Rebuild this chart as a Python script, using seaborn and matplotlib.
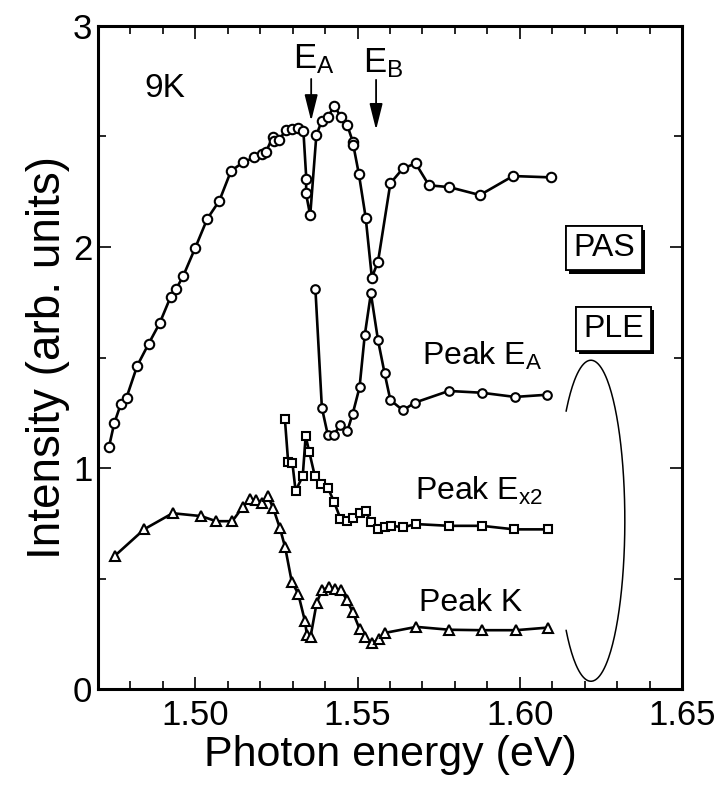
import numpy as np
import pandas as pd
import matplotlib
matplotlib.use("Agg")
import matplotlib.pyplot as plt
import matplotlib.patheffects as pe
from matplotlib.ticker import MultipleLocator
import seaborn as sns

# ---- data ----
pas_x = [1.4734, 1.4750, 1.4770, 1.4788, 1.4821, 1.4856, 1.4890, 1.4924, 1.4941, 1.4963,
         1.5000, 1.5037, 1.5074, 1.5110, 1.5147, 1.5182, 1.5204, 1.5218, 1.5238, 1.5241,
         1.5259, 1.5278, 1.5298, 1.5316, 1.5333, 1.5342, 1.5341, 1.5354, 1.5373, 1.5390,
         1.5409, 1.5428, 1.5448, 1.5468, 1.5486, 1.5487, 1.5504, 1.5525, 1.5544, 1.5563,
         1.5601, 1.5640, 1.5679, 1.5720, 1.5782, 1.5877, 1.5979, 1.6095]
pas_y = [1.096, 1.202, 1.288, 1.319, 1.463, 1.562, 1.655, 1.775, 1.81, 1.87,
         1.997, 2.128, 2.209, 2.344, 2.383, 2.405, 2.42, 2.431, 2.496, 2.481,
         2.486, 2.527, 2.532, 2.54, 2.526, 2.308, 2.243, 2.143, 2.506, 2.572,
         2.588, 2.639, 2.59, 2.552, 2.473, 2.46, 2.33, 2.133, 1.862, 1.934,
         2.288, 2.356, 2.378, 2.279, 2.271, 2.235, 2.321, 2.315]

ea_x = [1.5370, 1.5390, 1.5408, 1.5427, 1.5447, 1.5468, 1.5485, 1.5506, 1.5522, 1.5541,
        1.5563, 1.5583, 1.5601, 1.5640, 1.5676, 1.5781, 1.5882, 1.5985, 1.6085]
ea_y = [1.811, 1.273, 1.152, 1.152, 1.195, 1.166, 1.246, 1.365, 1.600, 1.790,
        1.578, 1.431, 1.308, 1.261, 1.296, 1.349, 1.341, 1.322, 1.332]

ex2_x = [1.5276, 1.5286, 1.5299, 1.5309, 1.5331, 1.5340, 1.5351, 1.5368, 1.5387, 1.5409,
         1.5428, 1.5447, 1.5466, 1.5485, 1.5506, 1.5525, 1.5540, 1.5564, 1.5583, 1.5602,
         1.5641, 1.5680, 1.5782, 1.5883, 1.5983, 1.6086]
ex2_y = [1.222, 1.029, 1.025, 0.897, 0.964, 1.145, 1.074, 0.966, 0.926, 0.909,
         0.846, 0.772, 0.763, 0.775, 0.798, 0.806, 0.756, 0.723, 0.735, 0.739,
         0.733, 0.747, 0.739, 0.739, 0.723, 0.723]

k_x = [1.4751, 1.4843, 1.4930, 1.5018, 1.5064, 1.5114, 1.5146, 1.5169, 1.5188, 1.5206,
       1.5223, 1.5240, 1.5261, 1.5277, 1.5297, 1.5317, 1.5338, 1.5344, 1.5355, 1.5374,
       1.5390, 1.5413, 1.5430, 1.5449, 1.5467, 1.5485, 1.5506, 1.5523, 1.5543, 1.5567,
       1.5585, 1.5681, 1.5783, 1.5882, 1.5988, 1.6088]
k_y = [0.602, 0.724, 0.796, 0.783, 0.760, 0.760, 0.824, 0.860, 0.858, 0.843,
       0.876, 0.819, 0.727, 0.641, 0.487, 0.432, 0.307, 0.244, 0.237, 0.391,
       0.448, 0.462, 0.454, 0.450, 0.403, 0.350, 0.273, 0.237, 0.207, 0.228,
       0.255, 0.282, 0.269, 0.267, 0.267, 0.279]

x_ticks = [1.50, 1.55, 1.60, 1.65]
x_tick_labels = ["1.50", "1.55", "1.60", "1.65"]
y_ticks = [0, 1, 2, 3]
y_tick_labels = ["0", "1", "2", "3"]

# ---- style ----
sns.set_style("ticks")
plt.rcParams["font.family"] = ["Liberation Sans", "DejaVu Sans"]
plt.rcParams["mathtext.fontset"] = "custom"
plt.rcParams["mathtext.rm"] = "Liberation Sans"
plt.rcParams["mathtext.it"] = "Liberation Sans"
for key in ["text.color", "axes.labelcolor", "xtick.color", "ytick.color", "axes.edgecolor"]:
    plt.rcParams[key] = "black"

fig = plt.figure(figsize=(7.15, 7.85), dpi=100)
ax = fig.add_axes([0.137, 0.122, 0.817, 0.845])

line_kw = dict(color="black", linewidth=1.9, sort=False, estimator=None,
               markerfacecolor="white", markeredgecolor="black", markeredgewidth=1.5,
               legend=False, ax=ax)

sns.lineplot(x=pas_x, y=pas_y, marker="o", markersize=6.8, **line_kw)
sns.lineplot(x=ea_x, y=ea_y, marker="o", markersize=6.2, **line_kw)
sns.lineplot(x=ex2_x, y=ex2_y, marker="s", markersize=5.6, **line_kw)
sns.lineplot(x=k_x, y=k_y, marker="^", markersize=7.2, **line_kw)

ax.set_xlim(1.47, 1.65)
ax.set_ylim(0, 3)
ax.set_xticks(x_ticks)
ax.set_xticklabels(x_tick_labels)
ax.set_yticks(y_ticks)
ax.set_yticklabels(y_tick_labels)
ax.xaxis.set_minor_locator(MultipleLocator(0.01))
ax.yaxis.set_minor_locator(MultipleLocator(0.5))
ax.tick_params(which="both", direction="in", top=True, right=True, width=1.2,
               labelsize=25, colors="black")
ax.tick_params(which="major", length=9)
ax.tick_params(which="minor", length=5.5)
ax.tick_params(axis="x", which="major", pad=7)
ax.tick_params(axis="y", which="major", pad=4)
for s in ax.spines.values():
    s.set_linewidth(2.2)
    s.set_color("black")

ax.set_xlabel("Photon energy (eV)", fontsize=31, labelpad=2)
ax.set_ylabel("Intensity (arb. units)", fontsize=33, labelpad=2)

# annotations
ax.text(1.4842, 2.68, "9K", fontsize=24, ha="left", va="baseline")
ax.text(1.5365, 2.81, r"E$_\mathrm{A}$", fontsize=25, ha="center", va="baseline")
ax.text(1.5578, 2.79, r"E$_\mathrm{B}$", fontsize=25, ha="center", va="baseline")
arrow_kw = dict(arrowstyle="-|>,head_length=0.8,head_width=0.2", color="black",
                lw=1.3, shrinkA=0, shrinkB=0, mutation_scale=20)
ax.annotate("", xy=(1.5357, 2.57), xytext=(1.5357, 2.76), arrowprops=arrow_kw)
ax.annotate("", xy=(1.5557, 2.53), xytext=(1.5557, 2.756), arrowprops=arrow_kw)

ax.text(1.5699, 1.466, r"Peak E$_\mathrm{A}$", fontsize=23, ha="left", va="baseline")
ax.text(1.5678, 0.858, r"Peak E$_\mathrm{x2}$", fontsize=23, ha="left", va="baseline")
ax.text(1.5689, 0.354, "Peak K", fontsize=23, ha="left", va="baseline")

for label, (bx, by) in [("PAS", (1.6259, 1.995)), ("PLE", (1.6288, 1.631))]:
    t = ax.text(bx, by, label, fontsize=23, ha="center", va="center",
                bbox=dict(boxstyle="square,pad=0.22", fc="white", ec="black", lw=1.3))
    t.get_bbox_patch().set_path_effects([
        pe.withSimplePatchShadow(offset=(2.5, -2.5), shadow_rgbFace="black", alpha=1.0),
        pe.Normal()])

# bracket (half ellipse) grouping PLE curves
cx, cy, w, h = 1.6219, 0.762, 0.0209, 1.452
t = np.radians(np.linspace(-137, 137, 200))
ax.plot(cx + w / 2 * np.cos(t), cy + h / 2 * np.sin(t), color="black", lw=1.1)

fig.savefig("out.png", dpi=100)
